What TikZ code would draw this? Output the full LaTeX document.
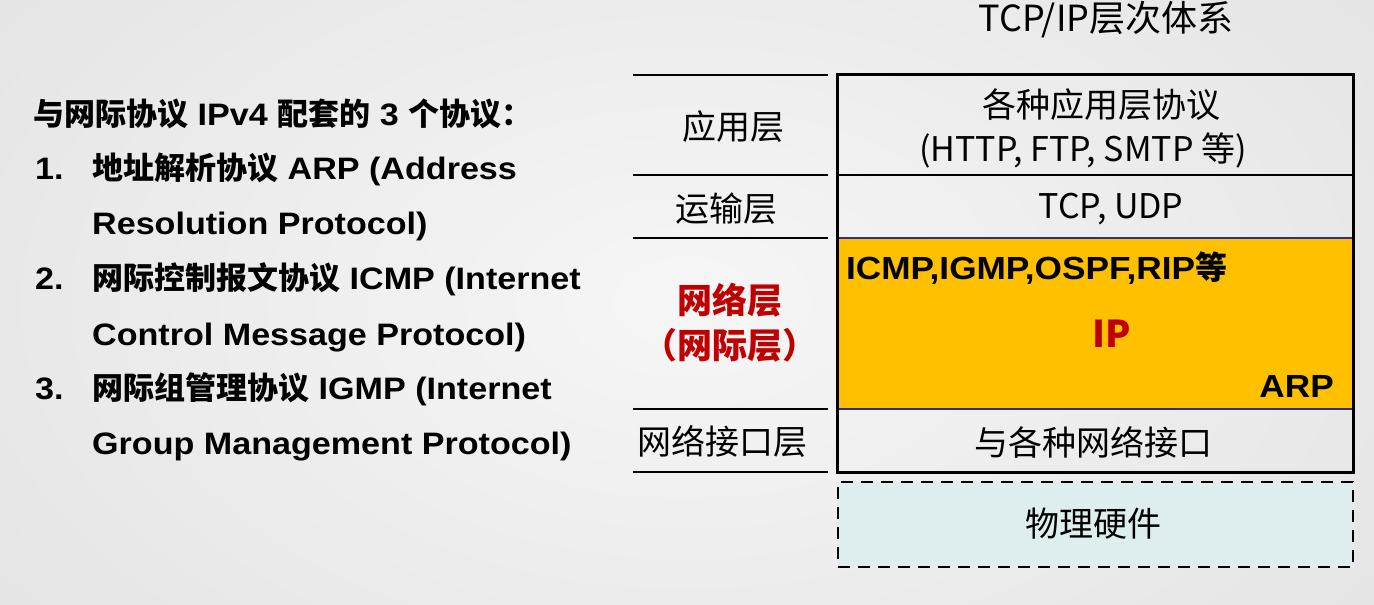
\documentclass[tikz,border=0pt]{standalone}
\usepackage{fontspec}
\setmainfont{Noto Sans CJK SC}
\newfontfamily\cjk{Noto Sans CJK SC}
\newfontfamily\lat{Liberation Sans}[FakeStretch=1.1]
\usetikzlibrary{positioning}
\definecolor{bgin}{HTML}{F6F6F6}
\definecolor{bgout}{HTML}{E2E2E2}
\definecolor{netfill}{HTML}{FFC000}
\definecolor{netline}{HTML}{2B2B9C}
\definecolor{hwfill}{HTML}{DEEDEE}
\definecolor{hlred}{HTML}{C00000}
\newcommand{\fs}[1]{\fontsize{#1pt}{#1pt}\selectfont}
\tikzset{
  txt/.style={inner sep=0pt, font=\fs{34}},
  bold/.style={inner sep=0pt, font=\lat\fs{32}\bfseries},
  lefttxt/.style={inner sep=0pt, anchor=base west, font=\lat\fs{31}\bfseries},
  rule/.style={line width=2pt, black},
  cell/.style={inner sep=0pt, minimum width=515pt, draw=none},
}
\begin{document}
\begin{tikzpicture}[x=1pt,y=-1pt]
% page and soft grey background
\useasboundingbox (0,0) rectangle (1374,605);
\shade[inner color=bgin, outer color=bgout] (-300,-300) rectangle (1674,905);

% title
\node[txt, font=\fs{36}] (title) at (1106,20) {TCP/IP层次体系};

% list of companion protocols
\node[lefttxt] (head) at (33,125) {{\cjk 与网际协议} IPv4 {\cjk 配套的} 3 {\cjk 个协议：}};
\node[lefttxt] (n1) at (35,179) {1.};
\node[lefttxt] (l1a) at (92,179) {{\cjk 地址解析协议} ARP (Address};
\node[lefttxt] (l1b) at (92,234) {Resolution Protocol)};
\node[lefttxt] (n2) at (35,289) {2.};
\node[lefttxt] (l2a) at (92,289) {{\cjk 网际控制报文协议} ICMP (Internet};
\node[lefttxt] (l2b) at (92,345) {Control Message Protocol)};
\node[lefttxt] (n3) at (35,399) {3.};
\node[lefttxt] (l3a) at (92,399) {{\cjk 网际组管理协议} IGMP (Internet};
\node[lefttxt] (l3b) at (92,454) {Group Management Protocol)};

% layer cells of the stack
\node[cell, minimum height=100pt] (app) at (1095.5,125) {};
\node[cell, minimum height=63pt] (trans) at (1095.5,206.5) {};
\node[cell, minimum height=171pt, fill=netfill] (net) at (1095.5,323.5) {};
\node[cell, minimum height=63pt] (link) at (1095.5,440.5) {};
\draw[netline, line width=2pt] (net.north west) -- (net.north east);
\draw[netline, line width=2pt] (net.south west) -- (net.south east);
\draw[black, line width=1.6pt] (app.south west) -- (app.south east);
\draw[black, line width=3pt] (app.north west) rectangle (link.south east);

% physical hardware (dashed)
\node[cell, minimum height=85pt, fill=hwfill, draw=black, line width=2.5pt,
      dash pattern=on 12pt off 8pt] (hw) at (1095.5,524.5) {};
\node[txt] (hwt) at (1093,524) {物理硬件};

% texts inside the stack
\node[txt] (appt1) at (1101,105) {各种应用层协议};
\node[txt] (appt2) at (1083,150) {(HTTP, FTP, SMTP 等)};
\node[txt] (transt) at (1111,209) {TCP, UDP};
\node[bold, anchor=west] (icmp) at (846,268) {ICMP,IGMP,OSPF,RIP{\cjk 等}};
\node[bold, font=\fs{37}\bfseries, text=hlred] (ip) at (1112,334) {IP};
\node[bold, anchor=east] (arp) at (1334,386) {ARP};
\node[txt] (linkt) at (1093,442) {与各种网络接口};

% layer names on the left
\foreach \yy in {75,175,238,409,472} \draw[rule] (633,\yy) -- (828,\yy);
\node[txt] (appn) at (733,127) {应用层};
\node[txt] (transn) at (726,209) {运输层};
\node[txt, font=\fs{35}\bfseries, text=hlred] (netn1) at (730,300) {网络层};
\node[txt, font=\fs{35}\bfseries, text=hlred] (netn2) at (730,345) {（网际层）};
\node[txt] (linkn) at (722,442) {网络接口层};
\end{tikzpicture}
\end{document}
